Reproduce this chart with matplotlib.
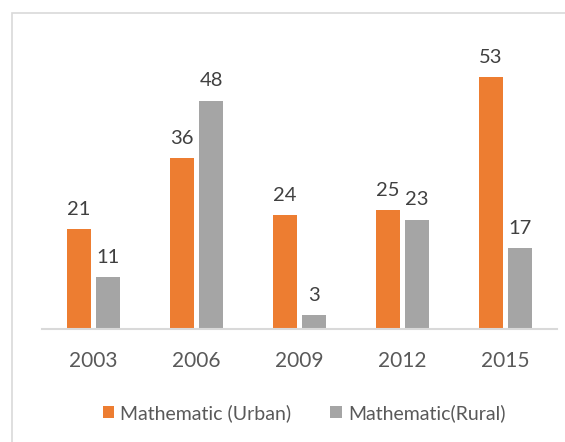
import matplotlib
matplotlib.use("Agg")
import matplotlib.pyplot as plt
from matplotlib.patches import Rectangle
import numpy as np

years = ["2003", "2006", "2009", "2012", "2015"]
urban = [21, 36, 24, 25, 53]
rural = [11, 48, 3, 23, 17]
series_names = ["Mathematic (Urban)", "Mathematic(Rural)"]

plt.rcParams['font.family'] = ['Lato', 'DejaVu Sans']
txt = '#595959'

fig = plt.figure(figsize=(5.65, 4.42), dpi=100)
ax = fig.add_axes([42/565, 1-329/442, (557-42)/565, (329-43.4)/442])

x = np.arange(len(years))
w = 0.233
gap = 0.05
b1 = ax.bar(x - (w+gap)/2, urban, w, color='#ED7D31', label=series_names[0])
b2 = ax.bar(x + (w+gap)/2, rural, w, color='#A5A5A5', label=series_names[1])

for bars, vals in ((b1, urban), (b2, rural)):
    for r, v in zip(bars, vals):
        ax.annotate(str(v), (r.get_x()+r.get_width()/2, v), xytext=(0, 8),
                    textcoords='offset points', ha='center', va='bottom',
                    fontsize=14.5, color='#404040')

ax.set_xlim(-0.5, len(years)-0.5)
ax.set_ylim(0, 60)
ax.set_xticks(x)
ax.set_xticklabels(years, fontsize=15, color=txt)
ax.tick_params(axis='x', length=0, pad=16)
ax.set_yticks([])
for s in ['top', 'right', 'left']:
    ax.spines[s].set_visible(False)
ax.spines['bottom'].set_color('#D9D9D9')
ax.spines['bottom'].set_linewidth(1.5)

leg = fig.legend(loc='center', bbox_to_anchor=(304/565, 1-413/442), ncol=2,
                 frameon=False, fontsize=14, handlelength=0.6, handleheight=0.6,
                 handletextpad=0.3, columnspacing=2.0)
for t in leg.get_texts():
    t.set_color(txt)

fig.patches.append(Rectangle((12/565, -0.1), 1.2, 1-13/442+0.1, transform=fig.transFigure,
                             fill=False, edgecolor='#D9D9D9', linewidth=1.2))

fig.savefig('out.png', dpi=100)
